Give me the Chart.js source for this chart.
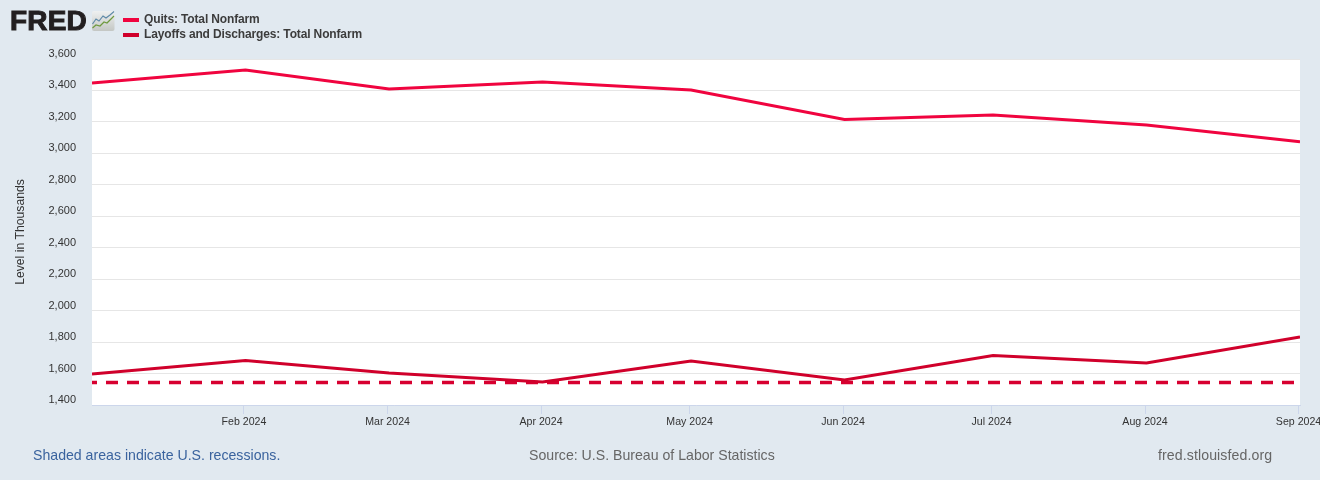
<!DOCTYPE html>
<html>
<head>
<meta charset="utf-8">
<style>
  html, body { margin: 0; padding: 0; background: #e1e9f0; overflow: hidden; }
  #wrap { position: relative; width: 1320px; height: 480px; font-family: "Liberation Sans", Arial, sans-serif; }
  #myChart { position: absolute; left: 0; top: 0; }
  .abs { position: absolute; white-space: nowrap; }
  .logo { left: 10px; top: 4px; font-size: 28px; line-height: 34px; font-weight: bold; color: #231f20; -webkit-text-stroke: 1px #231f20; letter-spacing: 0.2px; }
  .leg { left: 144px; font-size: 12px; line-height: 14px; font-weight: bold; color: #3c3c3c; letter-spacing: -0.14px; }
  .sw { left: 123px; width: 16px; height: 4px; }
  .foot { top: 446px; font-size: 14.13px; line-height: 18px; }
</style>
</head>
<body>
<div id="wrap">
  <canvas id="myChart" width="1320" height="480"></canvas>
  <div class="abs logo">FRED</div>
  <svg class="abs" style="left:92px;top:11px" width="23" height="20" viewBox="0 0 23 20">
    <defs>
      <linearGradient id="iconBg" x1="0" y1="0" x2="0" y2="1">
        <stop offset="0" stop-color="#eef0f0"/>
        <stop offset="1" stop-color="#c4c7c4"/>
      </linearGradient>
    </defs>
    <rect width="22.5" height="20" rx="2" fill="url(#iconBg)"/>
    <polyline points="0.5,13 4,8 7,10 11,5 14,7 18,4 22,0.5" fill="none" stroke="#5f8aa8" stroke-width="1.2"/>
    <polyline points="0.5,17 4,14 8,15 12,11 15,12 19,8 22,5" fill="none" stroke="#6f9a3f" stroke-width="1.2"/>
  </svg>
  <div class="abs sw" style="top:18px;background:#f0043f"></div>
  <div class="abs leg" style="top:12px">Quits: Total Nonfarm</div>
  <div class="abs sw" style="top:33px;background:#d0002b"></div>
  <div class="abs leg" style="top:27px">Layoffs and Discharges: Total Nonfarm</div>
  <div class="abs foot" style="left:33px;color:#3a639e">Shaded areas indicate U.S. recessions.</div>
  <div class="abs foot" style="left:529px;color:#666">Source: U.S. Bureau of Labor Statistics</div>
  <div class="abs foot" style="left:1158px;color:#666;letter-spacing:0.1px">fred.stlouisfed.org</div>
</div>
<script src="https://cdn.jsdelivr.net/npm/chart.js@4"></script>
<script>
// days since 1 Jan 2024, so the months get their real widths
const days = [0, 31, 60, 91, 121, 152, 182, 213, 244];
// the ticks sit a little left of the data points in the original
const tickDays = [30.7, 59.7, 90.7, 120.7, 151.7, 181.7, 212.7, 243.7];
const tickLabels = ['Feb 2024', 'Mar 2024', 'Apr 2024', 'May 2024', 'Jun 2024', 'Jul 2024', 'Aug 2024', 'Sep 2024'];
const quits = [3448, 3530, 3410, 3454, 3403, 3216, 3244, 3181, 3073];
const layoffs = [1597, 1683, 1604, 1546, 1680, 1559, 1715, 1667, 1832];
const layoffsLevel = [1543, 1543, 1543, 1543, 1543, 1543, 1543, 1543, 1543];

const points = (vals) => vals.map((v, i) => ({ x: days[i], y: v }));

const plotBg = {
  id: 'plotBg',
  beforeDraw(chart) {
    const a = chart.chartArea;
    chart.ctx.fillStyle = '#ffffff';
    chart.ctx.fillRect(a.left, a.top, a.right - a.left, a.bottom - a.top);
  }
};

const noPadding = (scale) => {
  scale.paddingLeft = 0;
  scale.paddingRight = 0;
  scale.paddingTop = 0;
  scale.paddingBottom = 0;
};

const myChart = new Chart(document.getElementById('myChart'), {
  type: 'line',
  data: {
    datasets: [
      { label: 'Quits: Total Nonfarm', data: points(quits), borderColor: '#f0043f', borderWidth: 3 },
      { label: 'Layoffs and Discharges: Total Nonfarm', data: points(layoffs), borderColor: '#d0002b', borderWidth: 3 },
      { label: 'Layoffs level', data: points(layoffsLevel), borderColor: '#d70030', borderWidth: 3.5, borderDash: [12, 9], borderDashOffset: 7 },
    ]
  },
  options: {
    responsive: false,
    animation: false,
    layout: { padding: { left: 0, right: 20, top: 59, bottom: 0 } },
    elements: {
      line: { tension: 0 },
      point: { radius: 0 }
    },
    plugins: {
      legend: { display: false },
      tooltip: { enabled: false }
    },
    scales: {
      x: {
        type: 'linear',
        min: 0,
        max: 244,
        afterBuildTicks: (scale) => { scale.ticks = tickDays.map((d) => ({ value: d })); },
        afterFit: (scale) => { noPadding(scale); scale.height = 75; },
        border: { color: '#ccd6eb' },
        grid: { drawOnChartArea: false, color: '#ccd6eb', tickLength: 9 },
        ticks: {
          autoSkip: false,
          maxRotation: 0,
          padding: 2,
          color: '#333',
          font: { family: '"Liberation Sans"', size: 10.6 },
          callback: (v) => tickLabels[tickDays.indexOf(v)]
        }
      },
      y: {
        min: 1400,
        max: 3600,
        afterFit: (scale) => { noPadding(scale); scale.width = 92; },
        border: { display: false },
        grid: { color: '#e6e6e6', drawTicks: false },
        title: {
          display: true,
          text: 'Level in Thousands',
          color: '#333',
          font: { family: '"Liberation Sans"', size: 12.2 },
          padding: { top: 13, bottom: 0 }
        },
        ticks: {
          stepSize: 200,
          padding: 16,
          labelOffset: -5,
          color: '#333',
          font: { family: '"Liberation Sans"', size: 11 },
          callback: (v) => v.toLocaleString('en-US')
        }
      }
    }
  },
  plugins: [plotBg]
});
</script>
</body>
</html>
